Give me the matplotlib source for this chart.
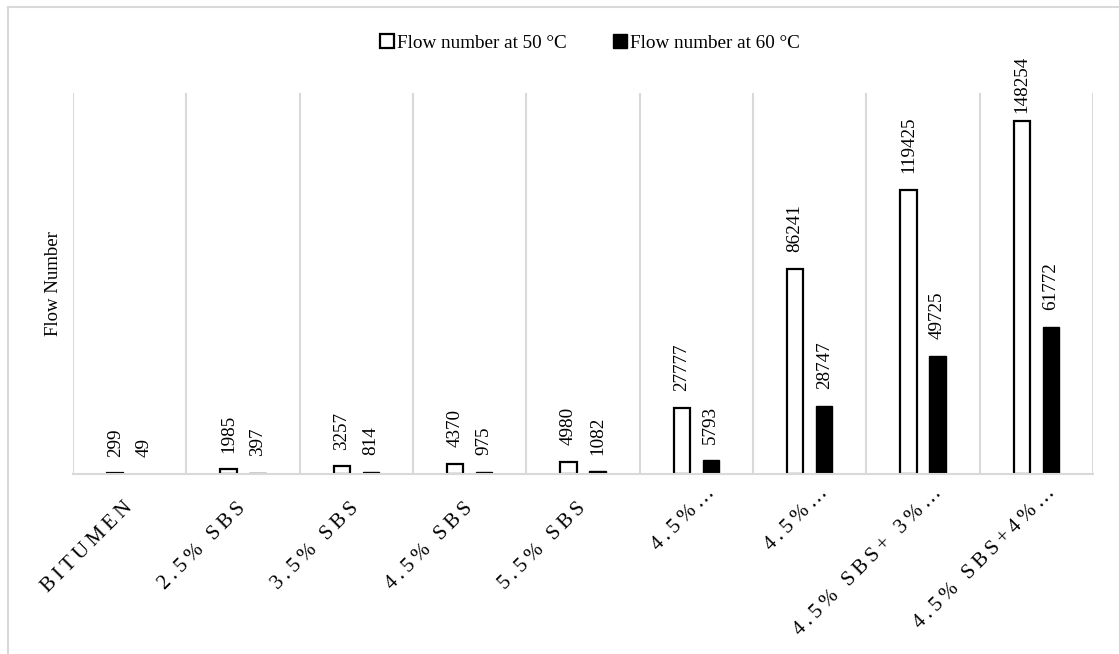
import numpy as np
import matplotlib
matplotlib.use("Agg")
import matplotlib.pyplot as plt
from matplotlib.patches import Patch
from matplotlib.lines import Line2D
from matplotlib.transforms import ScaledTranslation

plt.rcParams['font.family'] = ['Liberation Serif', 'DejaVu Serif']

categories = ["BITUMEN", "2.5% SBS", "3.5% SBS", "4.5% SBS", "5.5% SBS",
              "4.5%…", "4.5%…", "4.5% SBS+ 3%…", "4.5% SBS+4%…"]
flow_50 = [299, 1985, 3257, 4370, 4980, 27777, 86241, 119425, 148254]
flow_60 = [49, 397, 814, 975, 1082, 5793, 28747, 49725, 61772]
series_names = ["Flow number at 50 °C", "Flow number at 60 °C"]
y_max = 160000

W, H = 1119, 654
fig = plt.figure(figsize=(W / 100, H / 100), dpi=100)
ax = fig.add_axes([73 / W, 1 - 474 / H, 1020 / W, 381 / H])

grid_c = "#d9d9d9"
n = len(categories)
x = np.arange(n) + 0.5
bw = 0.146
off = 0.128

bars50 = ax.bar(x - off, flow_50, bw, facecolor="white", edgecolor="black",
                linewidth=1.6, zorder=3)
bars60 = ax.bar(x + off, flow_60, bw, facecolor="black", edgecolor="black",
                linewidth=1.0, zorder=3)

ax.set_xlim(0, n)
ax.set_ylim(0, y_max)
ax.set_yticks([])
ax.set_xticks(x)
spaced = ["\u2009".join(c) for c in categories]
ax.set_xticklabels(spaced, rotation=45, ha="right", va="center",
                   rotation_mode="anchor", fontsize=15)
ax.tick_params(axis="x", length=0, pad=24)
for lab, name in zip(ax.get_xticklabels(), categories):
    # truncated names sit further along the slant
    dx, dy = (16, 17) if name.endswith("…") else (0, 2)
    lab.set_transform(lab.get_transform() +
                      ScaledTranslation(dx / 100, dy / 100, fig.dpi_scale_trans))
ax.set_xticks(np.arange(n + 1), minor=True)
ax.tick_params(axis="x", which="minor", length=0)
ax.grid(True, which="minor", axis="x", color=grid_c, linewidth=1.5, zorder=0)
ax.grid(False, which="major")
for s in ["top", "right", "left"]:
    ax.spines[s].set_visible(False)
ax.spines["bottom"].set_color(grid_c)
ax.spines["bottom"].set_linewidth(1.5)
ax.spines["bottom"].set_zorder(4)

ax.set_ylabel("Flow Number", fontsize=13.5, labelpad=8)

# value labels above each bar, kept below the legend row
fig.canvas.draw()
renderer = fig.canvas.get_renderer()
top_limit = H - 56
for bars, vals in ((bars50, flow_50), (bars60, flow_60)):
    for b, v in zip(bars, vals):
        t = ax.annotate(f"{v}", (b.get_x() + b.get_width() / 2, v),
                        xytext=(0, 12), textcoords="offset points",
                        rotation=90, ha="center", va="bottom", fontsize=13.8,
                        zorder=5)
        bb = t.get_window_extent(renderer)
        if bb.y1 > top_limit:
            d = (bb.y1 - top_limit) * 72 / fig.dpi
            t.xyann = (0, 12 - d)

handles = [Patch(facecolor="white", edgecolor="black", linewidth=1.6),
           Patch(facecolor="black", edgecolor="black")]
fig.legend(handles, series_names, loc="center", ncol=2,
           bbox_to_anchor=(590 / W, 1 - 43 / H), frameon=False, fontsize=13.8,
           handlelength=0.75, handleheight=0.75, handletextpad=0.15,
           columnspacing=2.4)

# chart-area border (top and left edges)
fig.add_artist(Line2D([7.5 / W, 1], [1 - 6.5 / H, 1 - 6.5 / H],
                      transform=fig.transFigure, color=grid_c, linewidth=1.5))
fig.add_artist(Line2D([7.5 / W, 7.5 / W], [0, 1 - 6.5 / H],
                      transform=fig.transFigure, color=grid_c, linewidth=1.5))

fig.savefig("out.png", dpi=100)
